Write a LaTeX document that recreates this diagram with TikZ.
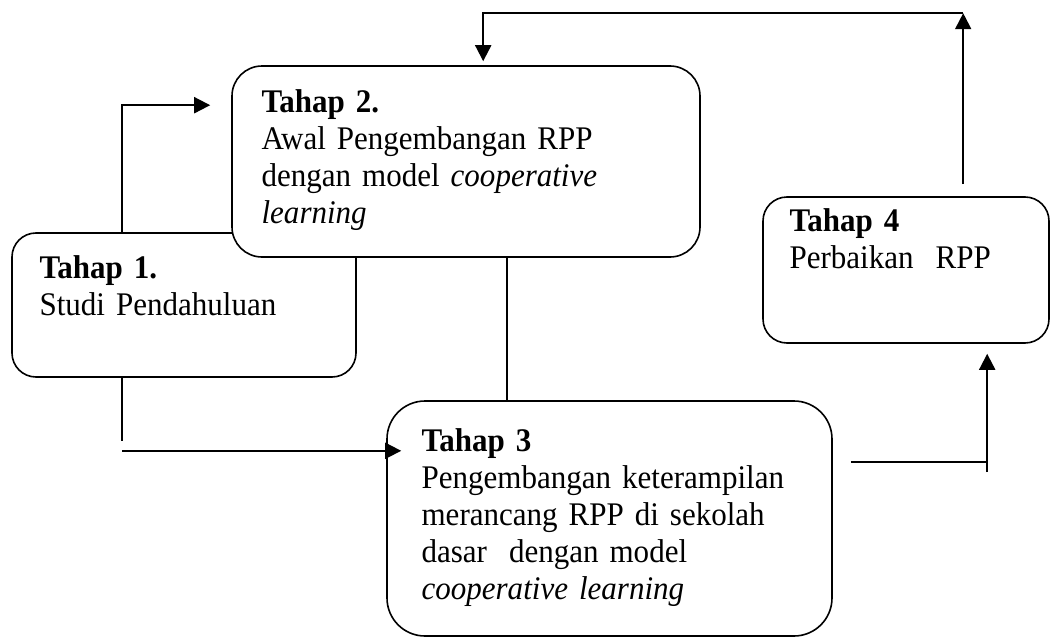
\documentclass[tikz,border=0pt]{standalone}
\usepackage{fontspec}
\setmainfont{Liberation Serif}[FakeStretch=0.94]
\usetikzlibrary{arrows.meta}
\begin{document}
\begin{tikzpicture}[
x=.5pt, y=-.5pt,
stage/.style={draw, line width=.8pt, fill=white, inner sep=0pt},
txt/.style={anchor=base west, inner sep=0pt, text width=200pt, align=left, font=\fontsize{16.5}{18.5}\selectfont},
flow/.style={line width=1pt, -{Triangle[length=8pt,width=8pt]}},
link/.style={line width=1pt}
]
\useasboundingbox (0,0) rectangle (1051,637);

%%% Stages
\node[stage, rounded corners=12pt, minimum width=172pt, minimum height=72pt] (s1) at (184,305) {};
\node[stage, rounded corners=15pt, minimum width=234pt, minimum height=95.5pt] (s2) at (466,161.5) {};
\node[stage, rounded corners=19pt, minimum width=222.5pt, minimum height=117.5pt] (s3) at (609.5,518.5) {};
\node[stage, rounded corners=12pt, minimum width=143pt, minimum height=73pt] (s4) at (906,270) {};

\node[txt] (s1t) at ([shift={(14pt,-23pt)}]s1.north west) {\textbf{Tahap 1.}\\Studi Pendahuluan};
\node[txt] (s2t) at ([shift={(15pt,-23.5pt)}]s2.north west) {\textbf{Tahap 2.}\\Awal Pengembangan RPP\\dengan model \textit{cooperative}\\\textit{learning}};
\node[txt] (s3t) at ([shift={(17.5pt,-25.5pt)}]s3.north west) {\textbf{Tahap 3}\\Pengembangan keterampilan\\merancang RPP di sekolah\\dasar\ \ dengan model\\\textit{cooperative learning}};
\node[txt] (s4t) at ([shift={(13.5pt,-17.5pt)}]s4.north west) {\textbf{Tahap 4}\\Perbaikan\ \ RPP};

%%% Connectors
\coordinate (a2) at ([shift={(-10.5pt,-20pt)}]s2.north west);
\draw[flow] ([xshift=55.5pt]s1.north west) |- (a2);

\coordinate (b1) at ([shift={(55.5pt,-36.5pt)}]s1.south west);
\coordinate (b3) at ([shift={(7.5pt,-24.5pt)}]s3.north west);
\draw[link] ([xshift=55.5pt]s1.south west) -- ++(0,63);
\draw[flow] (b1) -- (b1 -| b3);

\draw[link] ([xshift=138pt]s2.south west) -- ([xshift=138pt]s2.south west |- s3.north);

\coordinate (j3) at ([shift={(9pt,-31pt)}]s3.north east);
\coordinate (j4) at ([shift={(112.5pt,-5pt)}]s4.south west);
\draw[link] (j3) -- (j3 -| j4);
\draw[flow] ([yshift=-5pt]j3 -| j4) -- (j4);

%%% Back to Tahap 2
\coordinate (t4) at ([shift={(100.5pt,6pt)}]s4.north west);
\coordinate (t2) at ([shift={(126pt,2pt)}]s2.north west);
\coordinate (k) at ([yshift=26pt]s2.north);
\draw[flow] (t4) -- (t4 |- k);
\draw[flow] (t4 |- k) -| (t2);

\end{tikzpicture}
\end{document}
